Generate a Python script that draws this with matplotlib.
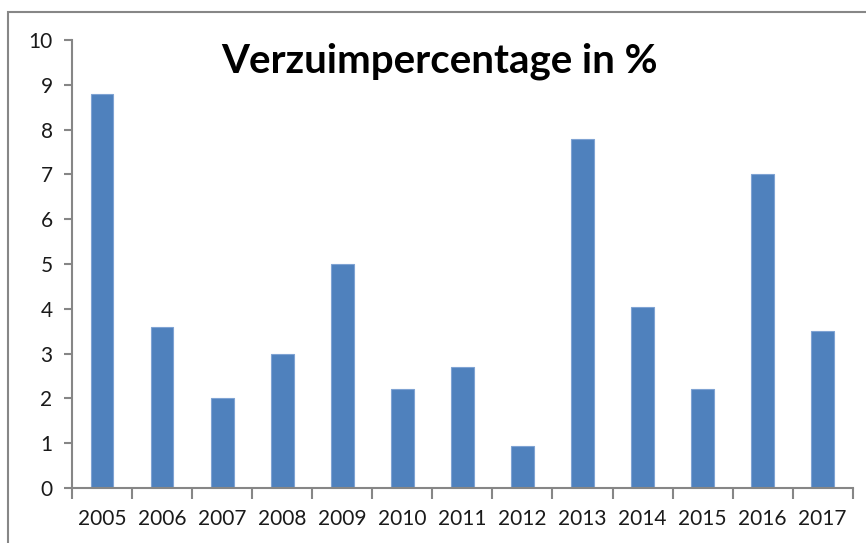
import matplotlib.pyplot as plt
from matplotlib.patches import Rectangle

# data
jaren = ['2005', '2006', '2007', '2008', '2009', '2010', '2011',
         '2012', '2013', '2014', '2015', '2016', '2017']
verzuim = [8.8, 3.6, 2.0, 3.0, 5.0, 2.2, 2.7, 0.93, 7.8, 4.05, 2.2, 7.0, 3.5]

plt.rcParams['font.family'] = ['Lato', 'DejaVu Sans']

fig = plt.figure(figsize=(8.66, 5.43), dpi=100)
ax = fig.add_axes([0.0831, 0.1013, 0.9016, 0.825])

x = range(len(jaren))
ax.bar(x, verzuim, width=0.38, color='#4F81BD', edgecolor='#7FA3D3', linewidth=0.8)

ax.set_xlim(-0.5, len(jaren) - 0.5)
ax.set_ylim(0, 10)
ax.set_yticks(range(0, 11))

# ticks tussen de categorieen, labels in het midden
ax.set_xticks([i - 0.5 for i in range(len(jaren) + 1)])
ax.set_xticklabels([])
ax.set_xticks(list(x), minor=True)
ax.set_xticklabels(jaren, minor=True)
ax.tick_params(axis='x', which='major', length=8, width=1.5, color='#868686', direction='out')
ax.tick_params(axis='x', which='minor', length=0, pad=15, labelsize=15, labelcolor='#1a1a1a')
ax.tick_params(axis='y', length=6, width=1.5, color='#868686', pad=8, labelsize=15, labelcolor='#1a1a1a')

for s in ['top', 'right']:
    ax.spines[s].set_visible(False)
for s in ['left', 'bottom']:
    ax.spines[s].set_color('#868686')
    ax.spines[s].set_linewidth(1.5)

fig.text(0.508, 0.887, 'Verzuimpercentage in %', ha='center', va='center',
         fontsize=29, fontweight='bold', color='black')

# rand om de grafiek
fig.patches.append(Rectangle((8 / 866, -0.1), 1.2, 1.1 - 12 / 543,
                             transform=fig.transFigure, fill=False,
                             edgecolor='#878787', linewidth=1.5))

fig.savefig('out.png', dpi=100)
